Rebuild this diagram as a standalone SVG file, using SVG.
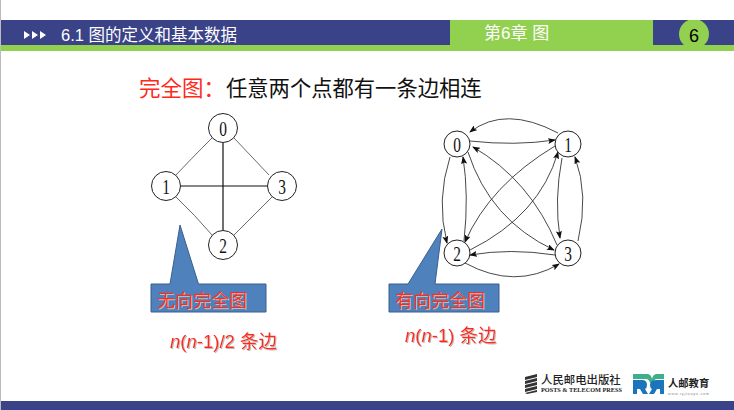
<svg xmlns="http://www.w3.org/2000/svg" width="734" height="410" viewBox="0 0 734 410">
<defs>
<marker id="ah" markerWidth="8" markerHeight="6" refX="7" refY="3" orient="auto" markerUnits="userSpaceOnUse"><path d="M0 0L8 3L0 6L1.500 3Z" fill="#111"/></marker>
<filter id="sh" x="-10%" y="-20%" width="120%" height="150%"><feDropShadow dx="1" dy="1" stdDeviation="0.5" flood-color="#bbb"/></filter>
<clipPath id="hc"><rect x="670" y="20" width="50" height="25"/></clipPath>
</defs>
<style>
.cjk{font-family:"Liberation Sans","Noto Sans CJK SC",sans-serif}
.n{fill:#fff;stroke:#222;stroke-width:1}
.d{font-family:"Liberation Serif",serif;font-size:22px;text-anchor:middle;fill:#111}
.e{fill:none;stroke:#444;stroke-width:.8}
.x{fill:none;stroke:#111;stroke-width:1.200}
.a{fill:none;stroke:#333;stroke-width:.9;marker-end:url(#ah)}
.call{fill:#4f81bd;stroke:#3a5f8c;stroke-width:1}
.red{fill:#ff2a1a;filter:url(#sh)}
</style>
<rect width="734" height="410" fill="#fff"/>
<rect x="0" y="0" width="1" height="410" fill="#bbb"/>
<g id="header">
<rect x="1" y="20" width="733" height="25" fill="#3a4288"/>
<rect x="1" y="45" width="733" height="6" fill="#92d050"/>
<rect x="450" y="20" width="203" height="25" fill="#92d050"/>
<circle cx="694" cy="34" r="15" fill="#92d050" clip-path="url(#hc)"/>
<path d="M24 31l6 4l-6 4zM32 31l6 4l-6 4zM40 31l6 4l-6 4z" fill="#fff"/>
<text class="cjk" x="61" y="41" font-size="16.500" fill="#fff">6.1 图的定义和基本数据</text>
<text class="cjk" x="484" y="39" font-size="17" fill="#fff">第6章 图</text>
<text class="cjk" x="694" y="42" font-size="18" text-anchor="middle" fill="#000">6</text>
</g>
<g id="title">
<text class="cjk" x="139" y="96" font-size="21.500" fill="#ff2a1a">完全图：</text>
<text class="cjk" x="226" y="96" font-size="21.300" fill="#111">任意两个点都有一条边相连</text>
</g>
<g id="connectors">
<path class="e" d="M212 138Q190 160 176 175M234 138L269 175M176 197Q195 215 212 235M234 235L272 197"/>
<path class="x" d="M223 143V230M180 186H268"/>
<path class="a" d="M558 133Q505 105 470 132"/>
<path class="a" d="M470 141Q515 146 555 140"/>
<path class="a" d="M450 157Q436 200 447 243"/>
<path class="a" d="M464 241Q469 195 463 157"/>
<path class="a" d="M562 158Q554 200 560 238"/>
<path class="a" d="M578 241Q589 195 575 157"/>
<path class="a" d="M555 255Q510 248 470 255"/>
<path class="a" d="M465 263Q515 290 559 264"/>
<path class="a" d="M468 152Q490 220 554 250"/>
<path class="a" d="M557 245Q530 180 473 147"/>
<path class="a" d="M555 146Q490 185 465 242"/>
<path class="a" d="M470 250Q540 215 558 152"/>
</g>
<g id="node-u0"><circle class="n" cx="223" cy="128" r="14.500"/><text class="d" transform="translate(223 135.500) scale(.7 1)">0</text></g>
<g id="node-u1"><circle class="n" cx="166" cy="186" r="14.500"/><text class="d" transform="translate(166 193.500) scale(.7 1)">1</text></g>
<g id="node-u2"><circle class="n" cx="223" cy="245" r="14.500"/><text class="d" transform="translate(223 252.500) scale(.7 1)">2</text></g>
<g id="node-u3"><circle class="n" cx="282" cy="186" r="14.500"/><text class="d" transform="translate(282 193.500) scale(.7 1)">3</text></g>
<g id="node-d0"><circle class="n" cx="457" cy="144" r="13"/><text class="d" transform="translate(457 151.500) scale(.7 1)">0</text></g>
<g id="node-d1"><circle class="n" cx="568" cy="144" r="13"/><text class="d" transform="translate(568 151.500) scale(.7 1)">1</text></g>
<g id="node-d2"><circle class="n" cx="457" cy="253" r="13"/><text class="d" transform="translate(457 260.500) scale(.7 1)">2</text></g>
<g id="node-d3"><circle class="n" cx="568" cy="253" r="13"/><text class="d" transform="translate(568 260.500) scale(.7 1)">3</text></g>
<g id="callout-u">
<path class="call" d="M151 284H170L180 225L198.500 284H266V312H151Z"/>
<text class="cjk red" x="157" y="307" font-size="18">无向完全图</text>
</g>
<g id="callout-d">
<path class="call" d="M389 284H408L442 229L435 284H499V312H389Z"/>
<text class="cjk red" x="395" y="307" font-size="18">有向完全图</text>
</g>
<g id="count-u"><text class="cjk red" x="170" y="348" font-size="18.500"><tspan font-style="italic">n</tspan>(<tspan font-style="italic">n</tspan>-1)/2 条边</text></g>
<g id="count-d"><text class="cjk red" x="405" y="342" font-size="18.500"><tspan font-style="italic">n</tspan>(<tspan font-style="italic">n</tspan>-1) 条边</text></g>
<g id="logos">
<path d="M525 377l12-3v3l-12 3zM525 381l12-3v3l-12 3zM525 385l12-3v3l-12 3zM525 389l12-3v3l-12 3zM525 393l12-3v2l-10 2z" fill="#333"/>
<text x="541" y="384" font-size="11.400" font-weight="500" fill="#222" style="font-family:'Noto Sans CJK SC',sans-serif">人民邮电出版社</text>
<text x="541" y="392" font-size="5.500" font-weight="700" fill="#222" textLength="81" lengthAdjust="spacingAndGlyphs" style="font-family:'Liberation Serif',serif">POSTS &amp; TELECOM PRESS</text>
<path d="M633 374h14q4 0 5 5q1-5 5-5h7v5h-7q-3 0-4 4h-3q-1-4-4-4h-13z" fill="#3fae8a"/>
<path d="M633 380h9q5 0 5 5q0 3-2 4l3 5h-5l-3-5h-3v5h-4zM657 380h7v14h-4v-5h-3l-3 5h-5l3-5q-2-1-2-4q0-5 7-5z" fill="#1b75bc"/>
<text x="668" y="387" font-size="10.300" font-weight="700" fill="#222" style="font-family:'Noto Sans CJK SC',sans-serif">人邮教育</text>
<text x="668" y="394.500" font-size="3.800" fill="#888" textLength="41" style="font-family:'Liberation Sans',sans-serif">www.ryjiaoyu.com</text>
</g>
<g id="footer"><rect x="1" y="401" width="733" height="9" fill="#3a4288"/></g>
</svg>
